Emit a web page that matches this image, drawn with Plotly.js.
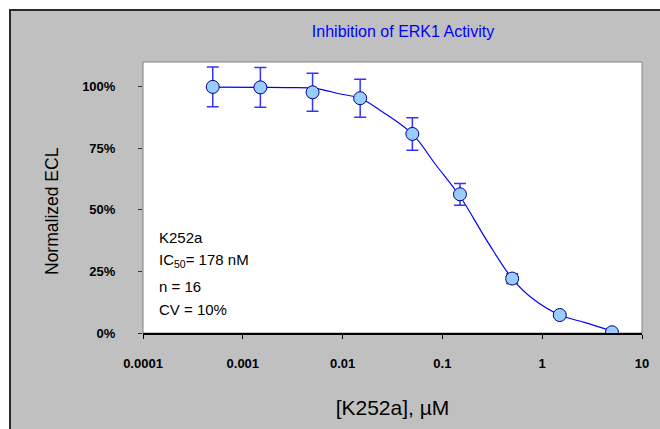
<!DOCTYPE html>
<html>
<head>
<meta charset="utf-8">
<script src="https://cdn.plot.ly/plotly-3.0.1.min.js"></script>
<style>
  html, body { margin: 0; padding: 0; background: #ffffff; }
  #chart { position: absolute; left: 0; top: 0; width: 660px; height: 429px; }
  .ov { position: absolute; }
</style>
</head>
<body>
<div id="chart"></div>
<div class="ov" style="left:0;top:0;width:660px;height:9px;background:#fff;"></div>
<div class="ov" style="left:0;top:0;width:9px;height:429px;background:#fff;"></div>
<div class="ov" style="left:9px;top:9px;width:651px;height:2px;background:#2a2a2a;"></div>
<div class="ov" style="left:9px;top:9px;width:2px;height:420px;background:#2a2a2a;"></div>
<script>
// Measured data (concentration in µM, normalized ECL in %)
const concentration = [0.0005, 0.0015, 0.005, 0.015, 0.05, 0.15, 0.5, 1.5, 5];
const normalizedECL = [99.9, 99.7, 97.7, 95.3, 80.8, 56.3, 22.1, 7.3, 0.3];
const errorECL      = [8.1, 8.1, 7.7, 7.7, 6.6, 4.4, 2.0, 1.0, 0.5];

// Fitted curve
const curveX = [0.0005, 0.0015, 0.003, 0.0055, 0.0095, 0.015, 0.025, 0.05, 0.085, 0.15, 0.28, 0.5, 0.8, 1.5, 2.7, 5];
const curveY = [99.8, 99.7, 99.6, 99.2, 97.0, 95.3, 89.8, 80.8, 68.5, 55.5, 37.4, 22.1, 14.0, 7.3, 4.2, 0.8];

// Axis ticks
const xTickVals = [0.0001, 0.001, 0.01, 0.1, 1, 10];
const xTickText = ['0.0001', '0.001', '0.01', '0.1', '1', '10'];
const yTickVals = [0, 25, 50, 75, 100];
const yTickText = ['0%', '25%', '50%', '75%', '100%'];

// Info box lines
const infoLines = ['K252a', 'IC<sub>50</sub>= 178 nM', 'n = 16', 'CV = 10%'];
const infoY = [38.6, 29.3, 19.0, 9.7];

const FONT = '"Liberation Sans", Arial, sans-serif';

const traces = [
  {
    x: curveX, y: curveY, type: 'scatter', mode: 'lines',
    line: { color: '#0000FF', width: 1.2, shape: 'spline', smoothing: 1 },
    hoverinfo: 'skip', showlegend: false
  },
  {
    x: concentration, y: normalizedECL, type: 'scatter', mode: 'markers',
    marker: { size: 13, color: '#99CCFF', line: { color: '#000080', width: 1 } },
    error_y: { type: 'data', array: errorECL, visible: true, color: '#3333FF', thickness: 1.5, width: 6 },
    showlegend: false
  }
];

const layout = {
  width: 660, height: 429,
  margin: { l: 143, r: 18, t: 62, b: 96 },
  paper_bgcolor: '#C0C0C0',
  plot_bgcolor: '#FFFFFF',
  font: { family: FONT, size: 14, color: '#000000' },
  title: {
    text: 'Inhibition of ERK1 Activity',
    font: { family: FONT, size: 16, color: '#0000FF' },
    xref: 'container', x: 403 / 660, xanchor: 'center',
    yref: 'container', y: 1 - 31 / 429, yanchor: 'middle'
  },
  xaxis: {
    type: 'log', range: [-4, 1],
    tickvals: xTickVals, ticktext: xTickText,
    ticks: 'outside', ticklen: 4, tickcolor: '#000000', tickwidth: 1,
    showline: true, linecolor: '#000000', linewidth: 1.5,
    showgrid: false, zeroline: false,
    tickfont: { family: FONT, size: 13, color: '#000000', weight: 'bold' },
    ticklabelstandoff: 14,
    title: { text: '[K252a], µM', font: { family: FONT, size: 21, color: '#000000' }, standoff: 30 }
  },
  yaxis: {
    range: [0, 110],
    tickvals: yTickVals, ticktext: yTickText,
    ticks: 'outside', ticklen: 4, tickcolor: '#333333', tickwidth: 1,
    showline: false, showgrid: false, zeroline: false,
    tickfont: { family: FONT, size: 13, color: '#000000', weight: 'bold' },
    ticklabelstandoff: 20
  },
  shapes: [
    { type: 'rect', xref: 'paper', yref: 'paper', x0: 0, x1: 1, y0: 0, y1: 1,
      line: { color: '#808080', width: 1 }, fillcolor: 'rgba(0,0,0,0)', layer: 'below' }
  ],
  annotations: infoLines.map((t, i) => ({
    text: t, xref: 'paper', x: 14 / 499, xanchor: 'left',
    yref: 'y', y: infoY[i], yanchor: 'middle',
    showarrow: false, font: { family: FONT, size: 15, color: '#000000' }
  })).concat([{
    text: 'Normalized ECL', textangle: -90,
    xref: 'paper', x: (52 - 143) / 499, xanchor: 'center',
    yref: 'paper', y: (333 - 211) / 271, yanchor: 'middle',
    showarrow: false, font: { family: FONT, size: 17.5, color: '#000000' }
  }])
};

Plotly.newPlot('chart', traces, layout, { staticPlot: true, displayModeBar: false });
</script>
</body>
</html>
